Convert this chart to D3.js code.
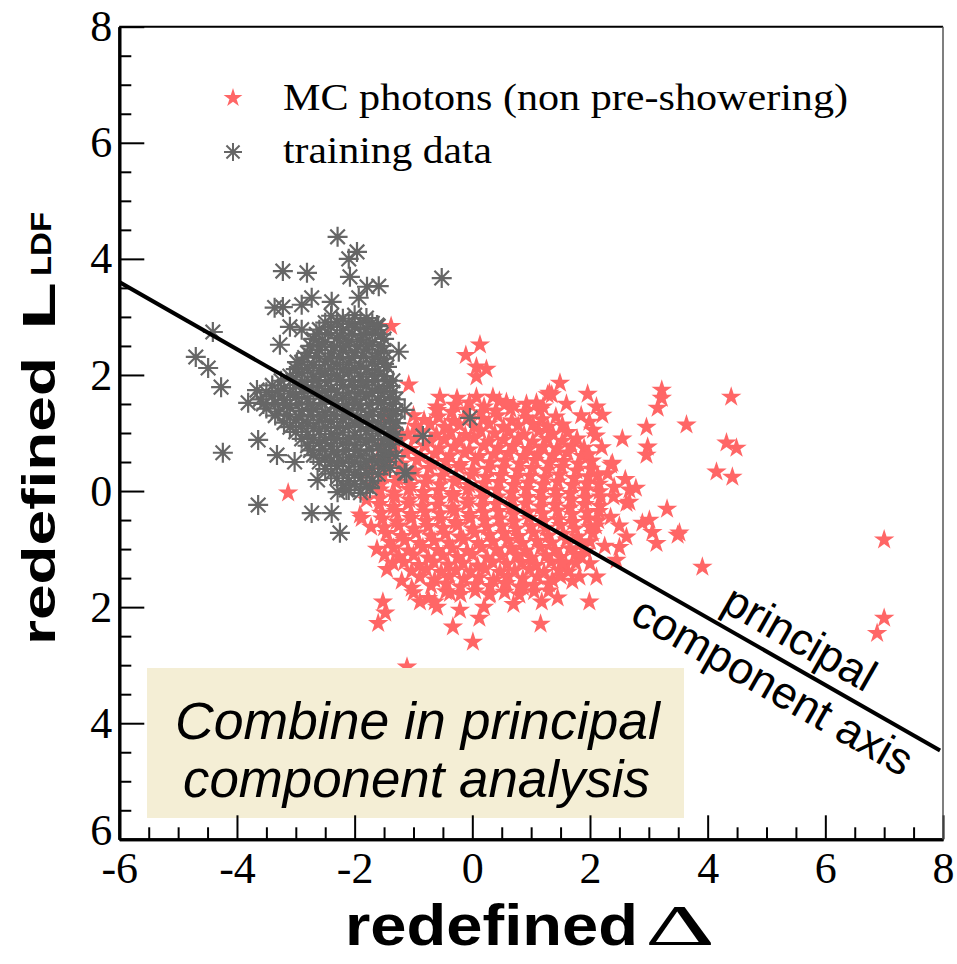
<!DOCTYPE html>
<html><head><meta charset="utf-8">
<script src="https://cdn.jsdelivr.net/npm/d3@7"></script>
<style>body{margin:0;background:#fff}</style>
</head><body><svg id="c" width="957" height="964"></svg>
<script>
// ---------------- data ----------------
const xTickValues = [-6,-4,-2,0,2,4,6,8];
const xTickLabels = ["-6","-4","-2","0","2","4","6","8"];
const yTickValues = [8,6,4,2,0,-2,-4,-6];
const yTickLabels = ["8","6","4","2","0","2","4","6"];
const minorTickValues = [-5.5,-5,-4.5,-3.5,-3,-2.5,-1.5,-1,-0.5,0.5,1,1.5,2.5,3,3.5,4.5,5,5.5,6.5,7,7.5];
const yMinorTickValues = [7.5,7,6.5,5.5,5,4.5,3.5,3,2.5,1.5,1,0.5,-0.5,-1,-1.5,-2.5,-3,-3.5,-4.5,-5,-5.5];

const legendLabels = ["MC photons (non pre-showering)", "training data"];
const axisTitleX = "redefined";
const axisTitleY = "redefined";
const pcaLabels = ["principal", "component axis"];
const boxLines = ["Combine in principal", "component analysis"];

// principal component axis (two end points)
const pcaLineX = [-6, 7.95];
const pcaLineY = [3.6, -4.47];

// MC photons (red stars)
const mcPhotons = [
 [-0.3,1.48],[-0.05,1.52],[0.2,1.45],[0.46,1.55],[0.7,1.47],[0.92,1.5],
 [-0.82,1.22],[-0.58,1.28],[-0.33,1.2],[-0.08,1.27],[0.18,1.24],[0.43,1.3],[0.67,1.21],[0.93,1.26],[1.18,1.23],[1.42,1.28],
 [-1.1,0.98],[-0.87,1.03],[-0.61,0.97],[-0.37,1.02],[-0.12,0.96],[0.14,1.04],[0.38,0.99],[0.62,1.02],[0.88,0.97],[1.13,1.03],[1.37,0.98],[1.62,1.01],
 [-1.3,0.77],[-1.05,0.72],[-0.8,0.78],[-0.56,0.73],[-0.31,0.76],[-0.05,0.71],[0.2,0.78],[0.44,0.74],[0.69,0.77],[0.95,0.72],[1.2,0.76],[1.44,0.73],[1.69,0.78],[1.9,0.74],
 [-1.44,0.52],[-1.2,0.47],[-0.94,0.53],[-0.7,0.48],[-0.45,0.51],[-0.2,0.46],[0.05,0.53],[0.3,0.49],[0.55,0.52],[0.8,0.47],[1.06,0.53],[1.3,0.48],[1.55,0.51],[1.8,0.47],[2.03,0.52],
 [-1.52,0.27],[-1.27,0.22],[-1.02,0.28],[-0.77,0.23],[-0.52,0.26],[-0.27,0.21],[-0.02,0.28],[0.23,0.24],[0.48,0.27],[0.73,0.22],[0.98,0.26],[1.23,0.23],[1.48,0.28],[1.73,0.22],[1.97,0.25],[2.13,0.27],
 [-1.57,0.02],[-1.33,-0.03],[-1.08,0.03],[-0.83,-0.02],[-0.58,0.01],[-0.33,-0.04],[-0.08,0.03],[0.17,-0.01],[0.42,0.02],[0.67,-0.03],[0.92,0.03],[1.17,-0.02],[1.42,0.01],[1.67,-0.04],[1.92,0.02],[2.16,-0.01],
 [-1.58,-0.23],[-1.34,-0.28],[-1.09,-0.22],[-0.84,-0.27],[-0.59,-0.24],[-0.34,-0.29],[-0.09,-0.22],[0.16,-0.26],[0.41,-0.23],[0.66,-0.28],[0.91,-0.22],[1.16,-0.27],[1.41,-0.24],[1.66,-0.29],[1.91,-0.23],[2.17,-0.26],
 [-1.53,-0.48],[-1.29,-0.53],[-1.04,-0.47],[-0.79,-0.52],[-0.54,-0.49],[-0.29,-0.54],[-0.04,-0.47],[0.21,-0.51],[0.46,-0.48],[0.71,-0.53],[0.96,-0.47],[1.21,-0.52],[1.46,-0.49],[1.71,-0.54],[1.96,-0.48],[2.14,-0.51],
 [-1.46,-0.73],[-1.21,-0.78],[-0.96,-0.72],[-0.71,-0.77],[-0.46,-0.74],[-0.21,-0.79],[0.04,-0.72],[0.29,-0.76],[0.54,-0.73],[0.79,-0.78],[1.04,-0.72],[1.29,-0.77],[1.54,-0.74],[1.79,-0.79],[2.05,-0.73],
 [-1.34,-0.98],[-1.09,-1.03],[-0.84,-0.97],[-0.59,-1.02],[-0.34,-0.99],[-0.09,-1.04],[0.16,-0.97],[0.41,-1.01],[0.66,-0.98],[0.91,-1.03],[1.16,-0.97],[1.41,-1.02],[1.66,-0.99],[1.93,-1.03],
 [-1.16,-1.23],[-0.91,-1.28],[-0.66,-1.22],[-0.41,-1.27],[-0.16,-1.24],[0.09,-1.29],[0.34,-1.22],[0.59,-1.26],[0.84,-1.23],[1.09,-1.28],[1.34,-1.22],[1.59,-1.27],[1.76,-1.24],
 [-0.89,-1.48],[-0.64,-1.53],[-0.39,-1.47],[-0.14,-1.52],[0.11,-1.49],[0.36,-1.54],[0.61,-1.47],[0.86,-1.51],[1.11,-1.48],[1.36,-1.53],[1.5,-1.47],
 [-0.45,-1.73],[-0.2,-1.78],[0.05,-1.72],[0.3,-1.77],[0.55,-1.74],[0.8,-1.79],[1.05,-1.73],
 [-0.6,1.39],[-0.35,1.36],[-0.1,1.4],[0.15,1.35],[0.4,1.38],[0.65,1.41],[0.9,1.36],[1.15,1.39],
 [-0.97,1.12],[-0.72,1.15],[-0.47,1.1],[-0.22,1.14],[0.03,1.11],[0.28,1.16],[0.53,1.1],[0.78,1.13],[1.03,1.15],[1.28,1.1],[1.53,1.14],
 [-1.22,0.87],[-0.97,0.9],[-0.72,0.85],[-0.47,0.89],[-0.22,0.86],[0.03,0.91],[0.28,0.85],[0.53,0.88],[0.78,0.9],[1.03,0.85],[1.28,0.89],[1.53,0.86],[1.78,0.9],
 [-1.38,0.62],[-1.13,0.65],[-0.88,0.6],[-0.63,0.64],[-0.38,0.61],[-0.13,0.66],[0.12,0.6],[0.37,0.63],[0.62,0.65],[0.87,0.6],[1.12,0.64],[1.37,0.61],[1.62,0.66],[1.87,0.6],[1.98,0.63],
 [-1.48,0.37],[-1.23,0.4],[-0.98,0.35],[-0.73,0.39],[-0.48,0.36],[-0.23,0.41],[0.02,0.35],[0.27,0.38],[0.52,0.4],[0.77,0.35],[1.02,0.39],[1.27,0.36],[1.52,0.41],[1.77,0.35],[2.02,0.38],
 [-1.55,0.12],[-1.3,0.15],[-1.05,0.1],[-0.8,0.14],[-0.55,0.11],[-0.3,0.16],[-0.05,0.1],[0.2,0.13],[0.45,0.15],[0.7,0.1],[0.95,0.14],[1.2,0.11],[1.45,0.16],[1.7,0.1],[1.95,0.13],[2.15,0.12],
 [-1.57,-0.13],[-1.32,-0.1],[-1.07,-0.15],[-0.82,-0.11],[-0.57,-0.14],[-0.32,-0.09],[-0.07,-0.15],[0.18,-0.12],[0.43,-0.1],[0.68,-0.15],[0.93,-0.11],[1.18,-0.14],[1.43,-0.09],[1.68,-0.15],[1.93,-0.12],[2.18,-0.1],
 [-1.55,-0.38],[-1.3,-0.35],[-1.05,-0.4],[-0.8,-0.36],[-0.55,-0.39],[-0.3,-0.34],[-0.05,-0.4],[0.2,-0.37],[0.45,-0.35],[0.7,-0.4],[0.95,-0.36],[1.2,-0.39],[1.45,-0.34],[1.7,-0.4],[1.95,-0.37],[2.15,-0.35],
 [-1.5,-0.63],[-1.25,-0.6],[-1.0,-0.65],[-0.75,-0.61],[-0.5,-0.64],[-0.25,-0.59],[0.0,-0.65],[0.25,-0.62],[0.5,-0.6],[0.75,-0.65],[1.0,-0.61],[1.25,-0.64],[1.5,-0.59],[1.75,-0.65],[2.0,-0.62],[2.1,-0.6],
 [-1.4,-0.88],[-1.15,-0.85],[-0.9,-0.9],[-0.65,-0.86],[-0.4,-0.89],[-0.15,-0.84],[0.1,-0.9],[0.35,-0.87],[0.6,-0.85],[0.85,-0.9],[1.1,-0.86],[1.35,-0.89],[1.6,-0.84],[1.85,-0.9],[2.0,-0.87],
 [-1.25,-1.13],[-1.0,-1.1],[-0.75,-1.15],[-0.5,-1.11],[-0.25,-1.14],[0.0,-1.09],[0.25,-1.15],[0.5,-1.12],[0.75,-1.1],[1.0,-1.15],[1.25,-1.11],[1.5,-1.14],[1.75,-1.09],[1.85,-1.13],
 [-1.03,-1.38],[-0.78,-1.35],[-0.53,-1.4],[-0.28,-1.36],[-0.03,-1.39],[0.22,-1.34],[0.47,-1.4],[0.72,-1.37],[0.97,-1.35],[1.22,-1.4],[1.47,-1.36],[1.63,-1.39],
 [-0.7,-1.63],[-0.45,-1.6],[-0.2,-1.65],[0.05,-1.61],[0.3,-1.64],[0.55,-1.59],[0.8,-1.65],[1.05,-1.62],[1.3,-1.6],
 [-1.75,0.35],[-1.8,-0.15],[-1.72,-0.62],[-1.62,-1.0],[-1.45,-1.35],[-1.2,-1.55],[-1.0,-1.75],[-0.75,-1.85],[-0.6,-2.0],[0.2,-2.0],
 [0.7,-1.95],[1.3,-1.72],[1.7,-1.55],[2.0,-1.25],[2.25,-0.95],[2.35,-0.45],[2.4,-0.1],[2.3,0.3],[2.2,0.75],[2.05,1.05],
 [1.85,1.3],[1.6,1.5],[1.2,1.45],[-0.6,1.45],[-1.0,1.3],[-1.35,1.05],[-1.55,0.75],[2.5,-0.6],[2.6,0.2],[2.55,0.9],
 [-1.3,0.9],[-1.5,0.55],[-1.7,0.1],[-1.45,1.3],[1.99,1.19],[2.1,0.95],
 [0.13,2.52],[-0.11,2.34],[0.07,2.14],[0.24,2.1],[0.07,1.97],[-1.08,1.83],[1.49,1.86],[1.96,1.67],[1.28,1.66],[-0.55,1.62],
 [-0.26,1.6],[0.07,1.62],[0.35,1.62],[0.58,1.53],[1.09,1.52],[2.11,1.45],[2.21,1.31],[2.38,0.48],[-1.38,2.84],[-3.13,-0.03],
 [3.22,1.74],[3.22,1.6],[3.15,1.43],[4.4,1.62],[2.96,1.1],[3.64,1.14],[4.32,0.83],[4.49,0.74],[2.98,0.76],[2.96,0.62],
 [4.15,0.33],[4.42,0.24],[2.36,0.45],[2.41,0.07],[2.67,0.02],[2.67,-0.19],[3.31,-0.31],[3.01,-0.5],[3.06,-0.71],[3.13,-0.9],
 [3.49,-0.76],[2.62,-0.79],[2.5,-0.97],[3.91,-1.31],[7.0,-0.84],[7.0,-2.19],[6.88,-2.45],[1.99,-1.91],[1.45,-1.84],[2.11,-1.48],
 [1.82,-1.48],[1.53,-1.24],[1.35,1.66],[-1.52,-1.91],[-1.48,-2.1],[-1.6,-2.28],[0.01,-2.6],[-0.33,-2.34],[0.12,-2.19],[1.16,-2.29],
 [-1.11,-3.03],[-1.91,-0.41],[-1.49,-1.1],[-1.35,-1.24],[-1.03,-1.67],[-0.89,-1.91],[-0.64,-1.91],[-0.38,-1.76],[-0.21,-2.05],[0.29,-1.79],
 [0.58,-1.59],[0.86,-1.66],[1.18,-1.91],[1.31,1.69],[2.62,-0.21],[2.89,-0.55],[3.52,-0.72],[2.45,-1.19],[-1.88,-0.47],[2.78,0.05]
];

// training data (grey asterisks)
const trainingData = [
 [-2.4,3.02],[-2.2,2.97],[-2.0,3.03],[-1.8,2.98],
 [-2.6,2.78],[-2.4,2.83],[-2.2,2.77],[-2.0,2.82],[-1.8,2.79],[-1.6,2.84],
 [-2.7,2.62],[-2.5,2.57],[-2.3,2.63],[-2.1,2.58],[-1.9,2.61],[-1.7,2.56],[-1.5,2.62],
 [-2.8,2.38],[-2.6,2.43],[-2.4,2.37],[-2.2,2.42],[-2.0,2.39],[-1.8,2.44],[-1.6,2.37],[-1.5,2.42],
 [-2.9,2.22],[-2.7,2.17],[-2.5,2.23],[-2.3,2.18],[-2.1,2.21],[-1.9,2.16],[-1.7,2.23],[-1.5,2.19],
 [-3.1,1.98],[-2.9,2.03],[-2.7,1.97],[-2.5,2.02],[-2.3,1.99],[-2.1,2.04],[-1.9,1.97],[-1.7,2.01],[-1.5,1.98],
 [-3.4,1.82],[-3.2,1.77],[-3.0,1.83],[-2.8,1.78],[-2.6,1.81],[-2.4,1.76],[-2.2,1.83],[-2.0,1.79],[-1.8,1.82],[-1.6,1.77],[-1.4,1.81],
 [-3.6,1.58],[-3.4,1.63],[-3.2,1.57],[-3.0,1.62],[-2.8,1.59],[-2.6,1.64],[-2.4,1.57],[-2.2,1.61],[-2.0,1.58],[-1.8,1.63],[-1.6,1.57],[-1.4,1.62],[-1.3,1.58],
 [-3.5,1.42],[-3.3,1.37],[-3.1,1.43],[-2.9,1.38],[-2.7,1.41],[-2.5,1.36],[-2.3,1.43],[-2.1,1.39],[-1.9,1.42],[-1.7,1.37],[-1.5,1.41],[-1.3,1.38],
 [-3.2,1.18],[-3.0,1.23],[-2.8,1.17],[-2.6,1.22],[-2.4,1.19],[-2.2,1.24],[-2.0,1.17],[-1.8,1.21],[-1.6,1.18],[-1.4,1.23],[-1.3,1.17],
 [-3.0,1.02],[-2.8,0.97],[-2.6,1.03],[-2.4,0.98],[-2.2,1.01],[-2.0,0.96],[-1.8,1.03],[-1.6,0.99],[-1.4,1.02],[-1.3,0.97],
 [-2.8,0.78],[-2.6,0.83],[-2.4,0.77],[-2.2,0.82],[-2.0,0.79],[-1.8,0.84],[-1.6,0.77],[-1.4,0.81],
 [-2.7,0.62],[-2.5,0.57],[-2.3,0.63],[-2.1,0.58],[-1.9,0.61],[-1.7,0.56],[-1.5,0.62],
 [-2.5,0.38],[-2.3,0.43],[-2.1,0.37],[-1.9,0.42],[-1.7,0.39],[-1.5,0.44],
 [-2.3,0.22],[-2.1,0.17],[-1.9,0.23],[-1.7,0.18],
 [-2.1,0.02],[-1.9,-0.03],
 [-2.5,2.9],[-2.3,2.92],[-2.1,2.88],[-1.9,2.91],[-1.7,2.89],
 [-2.65,2.7],[-2.45,2.72],[-2.25,2.68],[-2.05,2.71],[-1.85,2.69],[-1.65,2.72],[-1.55,2.7],
 [-2.75,2.5],[-2.55,2.52],[-2.35,2.48],[-2.15,2.51],[-1.95,2.49],[-1.75,2.52],[-1.55,2.5],
 [-2.85,2.3],[-2.65,2.32],[-2.45,2.28],[-2.25,2.31],[-2.05,2.29],[-1.85,2.32],[-1.65,2.3],[-1.5,2.28],
 [-3.0,2.1],[-2.8,2.12],[-2.6,2.08],[-2.4,2.11],[-2.2,2.09],[-2.0,2.12],[-1.8,2.1],[-1.6,2.08],
 [-3.25,1.9],[-3.05,1.92],[-2.85,1.88],[-2.65,1.91],[-2.45,1.89],[-2.25,1.92],[-2.05,1.9],[-1.85,1.88],[-1.65,1.91],[-1.45,1.89],
 [-3.5,1.7],[-3.3,1.72],[-3.1,1.68],[-2.9,1.71],[-2.7,1.69],[-2.5,1.72],[-2.3,1.7],[-2.1,1.68],[-1.9,1.71],[-1.7,1.69],[-1.5,1.72],[-1.35,1.7],
 [-3.55,1.5],[-3.35,1.52],[-3.15,1.48],[-2.95,1.51],[-2.75,1.49],[-2.55,1.52],[-2.35,1.5],[-2.15,1.48],[-1.95,1.51],[-1.75,1.49],[-1.55,1.52],[-1.35,1.5],
 [-3.35,1.3],[-3.15,1.32],[-2.95,1.28],[-2.75,1.31],[-2.55,1.29],[-2.35,1.32],[-2.15,1.3],[-1.95,1.28],[-1.75,1.31],[-1.55,1.29],[-1.35,1.32],
 [-3.1,1.1],[-2.9,1.12],[-2.7,1.08],[-2.5,1.11],[-2.3,1.09],[-2.1,1.12],[-1.9,1.1],[-1.7,1.08],[-1.5,1.11],[-1.35,1.09],
 [-2.9,0.9],[-2.7,0.92],[-2.5,0.88],[-2.3,0.91],[-2.1,0.89],[-1.9,0.92],[-1.7,0.9],[-1.5,0.88],[-1.35,0.91],
 [-2.75,0.7],[-2.55,0.72],[-2.35,0.68],[-2.15,0.71],[-1.95,0.69],[-1.75,0.72],[-1.55,0.7],[-1.42,0.68],
 [-2.6,0.5],[-2.4,0.52],[-2.2,0.48],[-2.0,0.51],[-1.8,0.49],[-1.6,0.52],[-1.48,0.5],
 [-2.4,0.3],[-2.2,0.32],[-2.0,0.28],[-1.8,0.31],[-1.6,0.29],
 [-2.2,0.1],[-2.0,0.12],[-1.8,0.08],
 [-2.29,4.38],[-1.96,4.12],[-2.1,4.0],[-2.08,3.69],[-3.22,3.79],[-2.81,3.76],[-0.52,3.67],[-1.79,3.52],[-1.59,3.53],[-1.93,3.33],
 [-2.39,3.26],[-2.73,3.33],[-2.9,3.21],[-3.22,3.17],[-3.36,3.16],[-4.41,2.74],[-4.7,2.31],[-4.49,2.12],[-4.27,1.79],[-3.81,1.52],
 [-3.66,1.74],[-3.64,0.88],[-4.24,0.66],[-3.32,0.62],[-3.64,-0.24],[-2.73,-0.38],[-2.39,-0.38],[-2.25,-0.72],[-1.15,0.31],[-0.84,0.95],
 [-1.45,2.14],[-1.62,2.86],[-2.9,2.78],[-3.1,2.83],[-3.27,2.52],[-2.98,2.22],[-0.04,1.26],[-1.15,1.4],[-1.12,0.31],[-1.29,1.17],
 [-2.63,0.19],[-2.29,-0.02],[-2.14,0.02],[-1.74,0.05],[-1.4,0.4],[-3.02,0.5],[-1.3,0.6],[-1.25,2.4],[-1.35,1.9]
];

// ---------------- layout ----------------
const svg = d3.select("#c");
svg.append("rect").attr("width",957).attr("height",964).attr("fill","#fff");
const L = 119.3, R = 943, T = 26.7, B = 839.3;
const x = d3.scaleLinear().domain([-6,8]).range([L,R]);
const y = d3.scaleLinear().domain([-6,8]).range([B,T]);

const serif = "'Liberation Serif','Times New Roman',serif";
const sans = "'Liberation Sans',Arial,Helvetica,sans-serif";

svg.append("clipPath").attr("id","clip").append("rect")
  .attr("x",L).attr("y",T).attr("width",R-L).attr("height",B-T);
const plot = svg.append("g").attr("clip-path","url(#clip)");

const starPath = d3.symbol(d3.symbolStar, 130)();
plot.append("g").selectAll("path").data(mcPhotons).join("path")
  .attr("d", starPath)
  .attr("transform", d => `translate(${x(d[0])},${y(d[1])})`)
  .attr("fill","#ff6666");

const astPath = "M-10,0H10M0,-10V10M-7.3,-7.3L7.3,7.3M-7.3,7.3L7.3,-7.3";
plot.append("g").selectAll("path").data(trainingData).join("path")
  .attr("d", astPath)
  .attr("transform", d => `translate(${x(d[0])},${y(d[1])})`)
  .attr("fill","none").attr("stroke","#666").attr("stroke-width",2.2);

plot.append("line")
  .attr("x1", x(pcaLineX[0])).attr("y1", y(pcaLineY[0]))
  .attr("x2", x(pcaLineX[1])).attr("y2", y(pcaLineY[1]))
  .attr("stroke","#000").attr("stroke-width",4);

// annotation box
svg.append("rect").attr("x",147).attr("y",668).attr("width",537).attr("height",150).attr("fill","#f4eed5");
const boxX = [175, 183], boxLen = [485, 467];
boxLines.forEach((t,i) => {
  svg.append("text").attr("x",boxX[i]).attr("y",739 + i*58)
    .attr("font-family",sans).attr("font-style","italic")
    .attr("font-size",51).attr("fill","#000")
    .attr("textLength",boxLen[i]).attr("lengthAdjust","spacingAndGlyphs").text(t);
});

// pca labels
const ang = Math.atan2(y(pcaLineY[1]) - y(pcaLineY[0]), x(pcaLineX[1]) - x(pcaLineX[0])) * 180/Math.PI;
const ax = 5.33;
const ay = pcaLineY[0] + (ax - pcaLineX[0]) * (pcaLineY[1]-pcaLineY[0])/(pcaLineX[1]-pcaLineX[0]);
const lab = svg.append("g").attr("transform", `translate(${x(ax)},${y(ay)}) rotate(${ang})`);
lab.append("text").attr("x",0).attr("y",-13).attr("text-anchor","middle")
  .attr("font-family",sans).attr("font-size",45).text(pcaLabels[0]);
lab.append("text").attr("x",0).attr("y",42).attr("text-anchor","middle")
  .attr("font-family",sans).attr("font-size",45).text(pcaLabels[1]);

// legend
svg.append("path").attr("d", d3.symbol(d3.symbolStar, 110)()).attr("transform","translate(233,98)").attr("fill","#ff6666");
svg.append("path").attr("d", astPath).attr("transform","translate(233,152) scale(0.9)")
  .attr("fill","none").attr("stroke","#666").attr("stroke-width",2.2);
const legLen = [565, 209];
legendLabels.forEach((t,i) => {
  svg.append("text").attr("x",283).attr("y",[110,163][i])
    .attr("font-family",serif).attr("font-size",37).attr("fill","#000")
    .attr("textLength",legLen[i]).attr("lengthAdjust","spacingAndGlyphs").text(t);
});

// axes
function styleAxis(g){
  g.selectAll(".tick line").attr("stroke","#000").attr("stroke-width",2);
  g.select(".domain").attr("stroke","#000").attr("stroke-width",3);
}
const gxMinor = svg.append("g").attr("transform",`translate(0,${B})`)
  .call(d3.axisBottom(x).tickValues(minorTickValues).tickSize(-12).tickSizeOuter(0).tickFormat(""));
styleAxis(gxMinor);
const gx = svg.append("g").attr("transform",`translate(0,${B})`)
  .call(d3.axisBottom(x).tickValues(xTickValues).tickSize(-24).tickSizeOuter(0)
    .tickFormat((d,i) => xTickLabels[i]));
styleAxis(gx);
gx.selectAll("text").attr("y",44).attr("dy",null)
  .attr("font-family",serif).attr("font-size",44).attr("fill","#000");

const gyMinor = svg.append("g").attr("transform",`translate(${L},0)`)
  .call(d3.axisLeft(y).tickValues(yMinorTickValues).tickSize(-12).tickSizeOuter(0).tickFormat(""));
styleAxis(gyMinor);
const gy = svg.append("g").attr("transform",`translate(${L},0)`)
  .call(d3.axisLeft(y).tickValues(yTickValues).tickSize(-25).tickSizeOuter(0).tickPadding(7)
    .tickFormat((d,i) => yTickLabels[i]));
styleAxis(gy);
gy.selectAll("text").attr("font-family",serif).attr("font-size",44).attr("fill","#000");
gy.selectAll("text").filter((d,i) => i === yTickValues.length-1).attr("dy","0.12em");

svg.append("line").attr("x1",L).attr("x2",R).attr("y1",T).attr("y2",T).attr("stroke","#000").attr("stroke-width",2);
svg.append("line").attr("x1",R).attr("x2",R).attr("y1",T).attr("y2",B).attr("stroke","#555").attr("stroke-width",1.5);

// axis titles
svg.append("text").attr("x",345).attr("y",945)
  .attr("font-family",sans).attr("font-weight","bold").attr("font-size",58)
  .attr("textLength",293).attr("lengthAdjust","spacingAndGlyphs").text(axisTitleX);
svg.append("text").attr("x",645).attr("y",945)
  .attr("font-family",serif).attr("font-size",58)
  .attr("textLength",70).attr("lengthAdjust","spacingAndGlyphs").text("Δ");

const yt = svg.append("g").attr("transform","translate(55,0) rotate(-90)");
yt.append("text").attr("x",-645).attr("y",0)
  .attr("font-family",sans).attr("font-weight","bold").attr("font-size",47)
  .attr("textLength",288).attr("lengthAdjust","spacingAndGlyphs").text(axisTitleY);
yt.append("text").attr("x",-330).attr("y",0)
  .attr("font-family",sans).attr("font-weight","bold").attr("font-size",47)
  .attr("textLength",48).attr("lengthAdjust","spacingAndGlyphs").text("L");
yt.append("text").attr("x",-276).attr("y",-4)
  .attr("font-family",sans).attr("font-weight","bold").attr("font-size",30)
  .attr("textLength",64).attr("lengthAdjust","spacingAndGlyphs").text("LDF");
</script></body></html>
